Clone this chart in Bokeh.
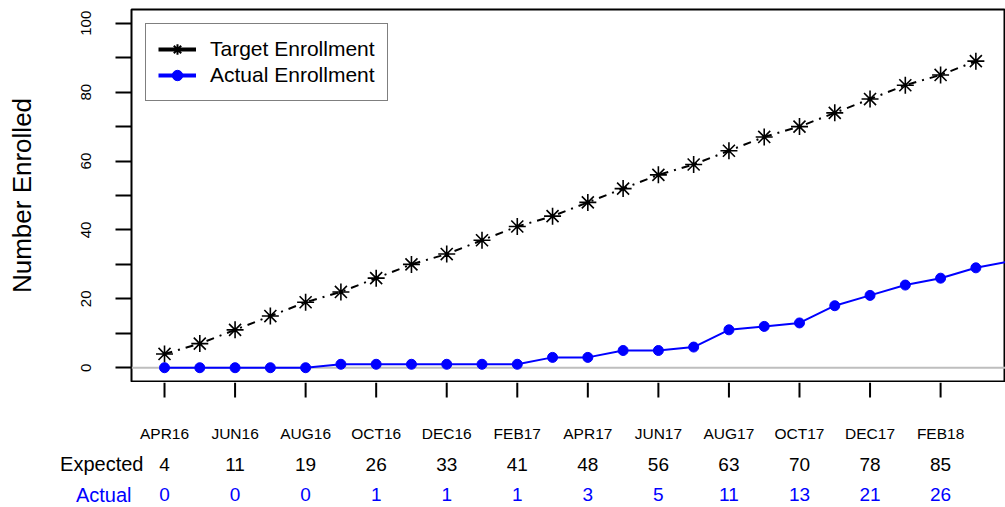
from bokeh.plotting import figure
from bokeh.layouts import column
from bokeh.models import Span, Legend, LegendItem, FixedTicker, Range1d
from bokeh.core.properties import value
from bokeh.embed import file_html
from bokeh.resources import INLINE

# ---------------- data ----------------
months = ["APR16", "MAY16", "JUN16", "JUL16", "AUG16", "SEP16", "OCT16", "NOV16",
          "DEC16", "JAN17", "FEB17", "MAR17", "APR17", "MAY17", "JUN17", "JUL17",
          "AUG17", "SEP17", "OCT17", "NOV17", "DEC17", "JAN18", "FEB18", "MAR18",
          "APR18"]
target = [4, 7, 11, 15, 19, 22, 26, 30, 33, 37, 41, 44, 48, 52, 56, 59, 63, 67,
          70, 74, 78, 82, 85, 89]
actual = [0, 0, 0, 0, 0, 1, 1, 1, 1, 1, 1, 3, 3, 5, 5, 6, 11, 12, 13, 18, 21,
          24, 26, 29, 31]
tick_months = ["APR16", "JUN16", "AUG16", "OCT16", "DEC16", "FEB17", "APR17",
               "JUN17", "AUG17", "OCT17", "DEC17", "FEB18"]
y_major = [0, 20, 40, 60, 80, 100]
y_minor = [10, 30, 50, 70, 90]
row_titles = ["Expected", "Actual"]

FONT = "Liberation Sans"
NAN = float("nan")

x_t = list(range(len(target)))
x_a = list(range(len(actual)))
tick_idx = [months.index(m) for m in tick_months]
exp_vals = [str(target[i]) for i in tick_idx]
act_vals = [str(actual[i]) for i in tick_idx]

X0, X1 = -0.936, 23.84          # visible month range of the panel
PX = 874 / (X1 - X0)            # pixels per month

p = figure(width=1005, height=382, output_backend="svg", toolbar_location=None,
           x_range=Range1d(X0, X1), y_range=Range1d(-4, 104),
           min_border_left=131, min_border_right=0, min_border_top=9,
           min_border_bottom=1)
p.frame_align = False
p.background_fill_color = "white"
p.border_fill_color = "white"
p.xgrid.grid_line_color = None
p.ygrid.grid_line_color = None
p.outline_line_color = "black"
p.outline_line_width = 2
p.xaxis.visible = False

# y axis
p.yaxis.ticker = FixedTicker(ticks=y_major, minor_ticks=y_minor)
p.yaxis.axis_line_color = None
p.yaxis.major_tick_out = 16
p.yaxis.major_tick_in = 0
p.yaxis.major_tick_line_width = 2
p.yaxis.minor_tick_out = 16
p.yaxis.minor_tick_in = 0
p.yaxis.minor_tick_line_width = 2
p.yaxis.minor_tick_line_color = "black"
p.yaxis.major_label_orientation = "vertical"
p.yaxis.major_label_text_font = FONT
p.yaxis.major_label_text_font_size = "15px"
p.yaxis.major_label_text_color = "black"
p.yaxis.major_label_standoff = 24
p.yaxis.axis_label = "Number Enrolled"
p.yaxis.axis_label_text_font = FONT
p.yaxis.axis_label_text_font_size = "26px"
p.yaxis.axis_label_text_font_style = "normal"
p.yaxis.axis_label_text_color = "black"
p.yaxis.axis_label_standoff = 42

# zero line
p.add_layout(Span(location=0, dimension="width", line_color="#BEBEBE",
                  line_width=2, level="underlay"))

# series
p.line(x_t, target, line_color="black", line_width=2, line_dash="8 6 2 6")
p.scatter(x_t, target, marker="asterisk", size=17, line_color="black",
          line_width=1.6)
p.line(x_a, actual, line_color="blue", line_width=2)
p.scatter(x_a, actual, marker="circle", size=10, fill_color="blue",
          line_color="blue")

# legend proxies (not visible in the panel)
lt1 = p.line([NAN], [NAN], line_color="black", line_width=4)
lt2 = p.scatter([NAN], [NAN], marker="asterisk", size=12, line_color="black",
                line_width=2)
la1 = p.line([NAN], [NAN], line_color="blue", line_width=4)
la2 = p.scatter([NAN], [NAN], marker="circle", size=9, fill_color="blue",
                line_color="blue")
legend = Legend(items=[LegendItem(label="Target Enrollment", renderers=[lt1, lt2]),
                       LegendItem(label="Actual Enrollment", renderers=[la1, la2])],
                location="top_left", margin=14, padding=12, spacing=-2,
                glyph_width=38, glyph_height=26, label_height=26,
                label_standoff=14, label_text_font=FONT,
                label_text_font_size="21px", label_text_color="black",
                border_line_color="black", border_line_width=1.5,
                background_fill_alpha=1.0)
p.add_layout(legend)

# ---------------- bottom: x ticks and table ----------------
q = figure(width=1005, height=125, output_backend="svg", toolbar_location=None,
           x_range=Range1d(X0 - 131 / PX, X1), y_range=Range1d(0, 125),
           min_border_left=0, min_border_right=0, min_border_top=0,
           min_border_bottom=0)
q.frame_align = False
q.axis.visible = False
q.grid.visible = False
q.outline_line_color = None
q.background_fill_color = "white"
q.border_fill_color = "white"

n = len(tick_idx)
q.segment(x0=tick_idx, y0=[125] * n, x1=tick_idx, y1=[110] * n,
          line_color="black", line_width=2)
q.text(x=tick_idx, y=[74] * n, text=tick_months, text_align="center",
       text_baseline="middle", text_font=value(FONT), text_font_size="15.5px",
       text_color="black")
q.text(x=tick_idx, y=[43.5] * n, text=exp_vals, text_align="center",
       text_baseline="middle", text_font=value(FONT), text_font_size="19px",
       text_color="black")
q.text(x=tick_idx, y=[13] * n, text=act_vals, text_align="center",
       text_baseline="middle", text_font=value(FONT), text_font_size="19px",
       text_color="blue")
q.text(x=[X0 + 0.34, X0], y=[43.5, 13], text=row_titles, text_align="right",
       text_baseline="middle", text_font=value(FONT), text_font_size="20px",
       text_color=["black", "blue"])

layout = column(p, q, spacing=0)
open("out.html", "w").write(file_html(layout, INLINE))
